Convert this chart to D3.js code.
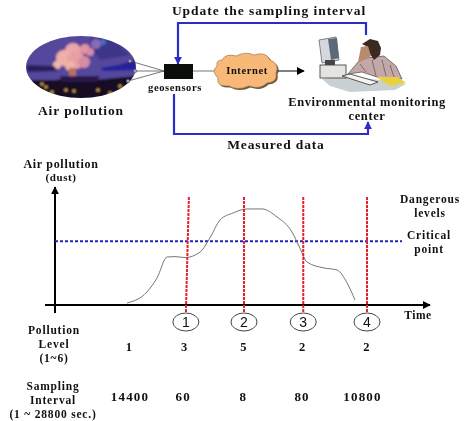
<!DOCTYPE html>
<html>
<head>
<meta charset="utf-8">
<script src="https://cdn.jsdelivr.net/npm/d3@7"></script>
<style>
  html, body { margin: 0; padding: 0; background: #fff; }
  svg { display: block; filter: blur(0.35px); }
  text { font-family: "Liberation Serif", serif; font-weight: bold; fill: #111; text-anchor: middle; }
</style>
</head>
<body>
<svg id="chart" width="474" height="421"></svg>
<script>
// air pollution curve, time and dust in percent of the axis length
const curveTime = [19.2, 24.5, 27.2, 29.9, 32, 34.7, 38.7, 41.3, 44, 47.5, 51.2, 55.2, 59.2, 63.2, 65.3, 67.2, 71.7, 75.2, 77.9, 80];
const curveDust = [1.7, 11, 22.9, 40.7, 41, 40.2, 44.9, 56.8, 72, 78, 81.4, 81.4, 74.6, 61.9, 48.3, 36.4, 31.4, 29.7, 18.6, 4.2];
const criticalDust = 54;
const eventNames = ["1", "2", "3", "4"];
const eventTime = [34.9, 50.4, 66.2, 83.2];
const eventTopTime = [35.7, 50.4, 66.2, 83.2]; // first line leans a little in the picture
const levelTime = [19.7, 34.4, 50.2, 65.9, 83];
const intervalTime = [20, 34.2, 50.2, 65.9, 82];
const pollutionLevels = ["1", "3", "5", "2", "2"];
const samplingIntervals = ["14400", "60", "8", "80", "10800"];

const svg = d3.select("#chart");
const defs = svg.append("defs");
const x = d3.scaleLinear().domain([0, 100]).range([55, 430]);
const y = d3.scaleLinear().domain([0, 100]).range([305, 187]);

const BLUE = "#2c2cc8";
function marker(id, color, size) {
  defs.append("marker").attr("id", id).attr("viewBox", "0 0 10 10").attr("refX", 9).attr("refY", 5)
    .attr("markerUnits", "userSpaceOnUse").attr("markerWidth", size).attr("markerHeight", size).attr("orient", "auto")
    .append("path").attr("d", "M0,0L10,5L0,10Z").attr("fill", color);
}
marker("arrowBlack", "#000", 8);
marker("arrowBlue", BLUE, 8);
defs.append("filter").attr("id", "soft").append("feGaussianBlur").attr("stdDeviation", 0.6);
defs.append("filter").attr("id", "softer").append("feGaussianBlur").attr("stdDeviation", 1);
defs.append("clipPath").attr("id", "photoClip").append("ellipse")
  .attr("cx", 81).attr("cy", 67).attr("rx", 55).attr("ry", 31);

function label(lines, cx, firstY, size, spacing, lineGap) {
  lines.forEach((s, i) => {
    svg.append("text").attr("x", cx).attr("y", firstY + i * lineGap)
      .attr("font-size", size).attr("letter-spacing", spacing).text(s);
  });
}

// ---- top diagram ----
const photo = svg.append("g").attr("clip-path", "url(#photoClip)").append("g").attr("filter", "url(#softer)");
photo.append("rect").attr("x", 20).attr("y", 30).attr("width", 125).attr("height", 72).attr("fill", "#54469c");
photo.append("path").attr("d", "M90,38 L112,38 L130,55 L100,60 L92,50Z").attr("fill", "#3e3488");
photo.selectAll("circle.smoke").data([[96, 44, 5, "#8a6cb4"], [103, 42, 3, "#4a6cc0"], [73, 51, 8, "#eaa6ac"], [85, 49, 5, "#e4949c"], [90, 52, 4, "#d88aa8"], [64, 58, 8, "#eeb0a8"], [76, 60, 9, "#e8a0a4"], [57, 65, 4, "#f0b8a8"], [84, 62, 6, "#d88ca4"], [70, 66, 5, "#f0b4a4"]]).enter()
  .append("circle").attr("class", "smoke").attr("cx", d => d[0]).attr("cy", d => d[1]).attr("r", d => d[2]).attr("fill", d => d[3]);
photo.append("rect").attr("x", 69).attr("y", 68).attr("width", 7).attr("height", 10).attr("fill", "#b87060");
photo.append("path").attr("d", "M27,65 L54,66 L58,71 L27,72Z").attr("fill", "#2a1c5c");
photo.append("path").attr("d", "M100,68 L118,65 L136,60 L136,70 L104,71Z").attr("fill", "#22209a");
photo.append("path").attr("d", "M26,80 L55,80 L75,78 L95,80 L136,76 L136,100 L26,100Z").attr("fill", "#160a24");
photo.append("path").attr("d", "M60,76 L100,76 L96,82 L62,82Z").attr("fill", "#2a1848");
photo.selectAll("circle.light").data([[42, 84], [46, 87], [66, 90], [74, 91], [98, 90], [120, 86], [110, 93], [52, 92]]).enter()
  .append("circle").attr("class", "light").attr("cx", d => d[0]).attr("cy", d => d[1]).attr("r", 1.6).attr("fill", "#e0b040");

svg.selectAll("line.probe").data([[130, 61], [135, 71], [128, 81]]).enter().append("line").attr("class", "probe")
  .attr("x1", d => d[0]).attr("y1", d => d[1]).attr("x2", 164).attr("y2", 71).attr("stroke", "#555").attr("stroke-width", 0.8);
svg.selectAll("circle.probe").data([[130, 61], [135, 71], [128, 81]]).enter().append("circle").attr("class", "probe")
  .attr("cx", d => d[0]).attr("cy", d => d[1]).attr("r", 1.8).attr("fill", "#9aa0c0").attr("stroke", "#444").attr("stroke-width", 0.5);

svg.append("rect").attr("x", 164).attr("y", 64).attr("width", 29).attr("height", 15).attr("fill", "#0a0f0a");
svg.append("line").attr("x1", 193).attr("y1", 71).attr("x2", 214).attr("y2", 71).attr("stroke", "#777").attr("stroke-width", 1);

// internet cloud
const cloudPath = "M222,60 Q226,53 236,56 Q246,51 254,55 Q266,51 270,60 Q280,64 276,73 Q278,82 267,83 Q260,90 249,86 Q238,91 229,86 Q216,87 218,78 Q211,71 217,66 Q216,60 222,60Z";
svg.append("path").attr("d", cloudPath).attr("transform", "translate(1.5,1.5)").attr("fill", "#6a5a40").attr("filter", "url(#soft)");
svg.append("path").attr("d", cloudPath).attr("fill", "#f8b878").attr("stroke", "#8a6a40").attr("stroke-width", 0.6);
label(["Internet"], 247, 74, 10.5, 0.6, 0);
svg.append("line").attr("x1", 278).attr("y1", 71).attr("x2", 304).attr("y2", 71).attr("stroke", "#000").attr("stroke-width", 1).attr("marker-end", "url(#arrowBlack)");

// operator at the computer
const desk = svg.append("g").attr("filter", "url(#soft)");
desk.append("path").attr("d", "M322,79 L345,76 L380,80 L406,84 L395,90 L350,92 L330,86Z").attr("fill", "#c8d0d4");
desk.append("path").attr("d", "M319,40 L336,37 L339,60 L322,63Z").attr("fill", "#d4d8dc").attr("stroke", "#555").attr("stroke-width", 0.7);
desk.append("path").attr("d", "M328,39 L337,38 L339,58 L331,60Z").attr("fill", "#5a6a78");
desk.append("rect").attr("x", 320).attr("y", 65).attr("width", 26).attr("height", 13).attr("fill", "#e4e4e0").attr("stroke", "#333").attr("stroke-width", 0.8);
desk.append("rect").attr("x", 325).attr("y", 60).attr("width", 10).attr("height", 5).attr("fill", "#444");
desk.append("path").attr("d", "M342,76 L350,74 L378,82 L370,85Z").attr("fill", "#f4f4f4").attr("stroke", "#333").attr("stroke-width", 0.8);
desk.append("path").attr("d", "M348,74 L358,62 L366,58 L384,56 L396,66 L402,79 L380,78 L362,72Z").attr("fill", "#c4a8a8").attr("stroke", "#333").attr("stroke-width", 0.6);
desk.selectAll("line.stripe").data([[372, 60, 376, 76], [382, 60, 386, 76], [390, 65, 394, 77], [360, 64, 366, 72]]).enter().append("line").attr("class", "stripe")
  .attr("x1", d => d[0]).attr("y1", d => d[1]).attr("x2", d => d[2]).attr("y2", d => d[3]).attr("stroke", "#6a5a5a").attr("stroke-width", 0.8);
desk.append("path").attr("d", "M362,44 L370,39 L378,41 L381,48 L380,55 L374,60 L370,54 L366,46Z").attr("fill", "#3a2a24");
desk.append("path").attr("d", "M361,47 L368,46 L371,56 L364,60 L358,62Z").attr("fill", "#b88a70");
desk.append("path").attr("d", "M376,77 L398,77 L406,83 L390,86Z").attr("fill", "#e8d040");

// feedback loops
const loop = d3.line();
svg.append("path").attr("d", loop([[366, 35], [366, 23], [178, 23], [178, 64]]))
  .attr("fill", "none").attr("stroke", BLUE).attr("stroke-width", 2.2).attr("marker-end", "url(#arrowBlue)");
svg.append("path").attr("d", loop([[174, 94], [174, 134], [368, 134], [368, 122]]))
  .attr("fill", "none").attr("stroke", BLUE).attr("stroke-width", 2.2).attr("marker-end", "url(#arrowBlue)");

label(["Update the sampling interval"], 269, 15, 13.5, 0.95, 0);
label(["Air pollution"], 81, 115, 13.5, 0.9, 0);
label(["geosensors"], 175, 91, 10.5, 0.6, 0);
label(["Environmental monitoring", "center"], 367, 106, 12.5, 0.6, 14);
label(["Measured data"], 276, 149, 13.5, 0.85, 0);

// ---- time chart ----
label(["Air pollution"], 61, 168, 12, 0.7, 0);
label(["(dust)"], 61, 181, 11, 0.6, 0);

svg.append("line").attr("x1", x(0)).attr("y1", 313).attr("x2", x(0)).attr("y2", y(100)).attr("stroke", "#000").attr("stroke-width", 2).attr("marker-end", "url(#arrowBlack)");
svg.append("line").attr("x1", 45).attr("y1", y(0)).attr("x2", x(100)).attr("y2", y(0)).attr("stroke", "#000").attr("stroke-width", 2).attr("marker-end", "url(#arrowBlack)");

svg.append("line").attr("x1", x(0)).attr("x2", 402).attr("y1", y(criticalDust)).attr("y2", y(criticalDust))
  .attr("stroke", "#2222c0").attr("stroke-width", 2).attr("stroke-dasharray", "3 2");

const curve = d3.line().x(d => x(d[0])).y(d => y(d[1])).curve(d3.curveMonotoneX);
svg.append("path").datum(d3.zip(curveTime, curveDust)).attr("d", curve)
  .attr("fill", "none").attr("stroke", "#666").attr("stroke-width", 0.9);

const events = d3.zip(eventNames, eventTime, eventTopTime);
svg.selectAll("line.event").data(events).enter().append("line").attr("class", "event")
  .attr("x1", d => x(d[2])).attr("x2", d => x(d[1])).attr("y1", 197).attr("y2", 313)
  .attr("stroke", "#e8202c").attr("stroke-width", 2).attr("stroke-dasharray", "3 1");
svg.selectAll("ellipse.event").data(events).enter().append("ellipse").attr("class", "event")
  .attr("cx", d => x(d[1])).attr("cy", 322).attr("rx", 13).attr("ry", 9)
  .attr("fill", "#fff").attr("stroke", "#444").attr("stroke-width", 1);
svg.selectAll("text.event").data(events).enter().append("text").attr("class", "event")
  .attr("x", d => x(d[1])).attr("y", 327).attr("font-size", 14)
  .style("font-family", "'Liberation Sans', sans-serif").style("font-weight", "normal").text(d => d[0]);

label(["Dangerous", "levels"], 430, 203, 11.5, 0.8, 14);
label(["Critical", "point"], 429, 239, 11.5, 0.8, 14);
label(["Time"], 418, 319, 11.5, 0.5, 0);

label(["Pollution", "Level", "(1~6)"], 54, 334, 11.5, 0.8, 14);
label(["Sampling", "Interval", "(1 ~ 28800 sec.)"], 53, 390, 11.5, 0.8, 14);

svg.selectAll("text.level").data(d3.zip(levelTime, pollutionLevels)).enter().append("text").attr("class", "level")
  .attr("x", d => x(d[0])).attr("y", 351).attr("font-size", 12.5).text(d => d[1]);
svg.selectAll("text.interval").data(d3.zip(intervalTime, samplingIntervals)).enter().append("text").attr("class", "interval")
  .attr("x", d => x(d[0])).attr("y", 401).attr("font-size", 13).attr("letter-spacing", 1.2).text(d => d[1]);
</script>
</body>
</html>
